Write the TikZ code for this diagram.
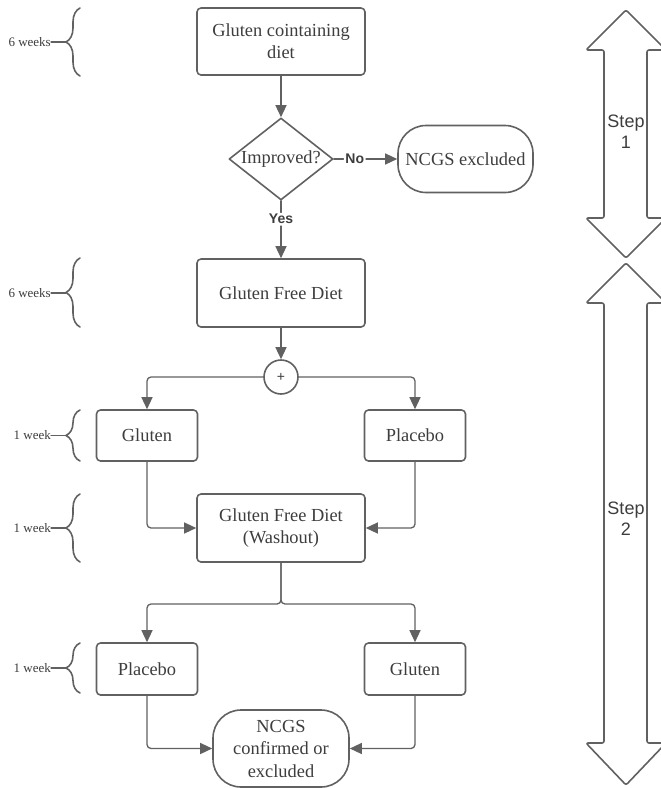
\documentclass[tikz,border=0pt]{standalone}
\usepackage{fontspec}
\setmainfont{Liberation Serif}
\setsansfont{Liberation Sans}
\usetikzlibrary{arrows.meta,shapes.geometric,decorations.pathreplacing}
\definecolor{lngray}{rgb}{0.38,0.38,0.38}
\definecolor{txgray}{rgb}{0.24,0.24,0.24}

\begin{document}
\begin{tikzpicture}[line cap=round,line join=round,>={Triangle[length=12pt,width=11pt]},x=1pt,y=1pt,
	box/.style={draw=lngray,line width=1.6pt,rounded corners=4pt,text=txgray,
		font=\fontsize{18.4}{22}\selectfont,align=center,inner sep=0pt},
	term/.style={box,rounded corners=28pt},
	dec/.style={draw=lngray,line width=1.6pt,diamond,inner sep=0pt},
	conn/.style={draw=lngray,line width=1.3pt,->,rounded corners=4pt},
	lab/.style={fill=white,text=txgray,inner sep=1.5pt,font=\sffamily\bfseries\fontsize{14}{16}\selectfont},
	wk/.style={text=txgray,anchor=east,inner sep=0pt,font=\fontsize{13}{15}\selectfont},
	lnk/.style={draw=lngray,line width=1.1pt},
	brc/.style={draw=lngray,line width=1.6pt,decorate,decoration={brace,amplitude=14pt}},
	bigarrow/.style={draw=lngray,line width=1.6pt,rounded corners=2pt},
	steptxt/.style={text=txgray,align=center,inner sep=0pt,font=\sffamily\fontsize{18}{21}\selectfont}]
	\useasboundingbox (0,0) rectangle (661,-788);
	\clip (0,0) rectangle (661,-788);
	% flow chart
	\node[box,minimum width=168pt,minimum height=67pt] (gcd) at (281,-41.5) {Gluten cointaining\\diet};
	\node[dec,minimum width=104pt,minimum height=82pt] (impr) at (281,-159) {};
	\node[text=txgray,font=\fontsize{18.4}{22}\selectfont] (imprtxt) at (impr) {Improved?};
	\node[term,minimum width=135pt,minimum height=67pt] (excl) at (465.5,-159) {NCGS excluded};
	\node[box,minimum width=168pt,minimum height=68pt] (gfd) at (281,-293) {Gluten Free Diet};
	\node[circle,draw=lngray,line width=1.6pt,minimum size=34pt,inner sep=0pt,text=txgray,
		font=\sffamily\fontsize{14}{14}\selectfont] (plus) at (281,-377) {+};
	\node[box,minimum width=101pt,minimum height=51pt] (glA) at (147,-435.5) {Gluten};
	\node[box,minimum width=101pt,minimum height=51pt] (plA) at (415,-435.5) {Placebo};
	\node[box,minimum width=168pt,minimum height=68pt] (wash) at (281,-528) {Gluten Free Diet\\(Washout)};
	\node[box,minimum width=101pt,minimum height=52pt] (plB) at (147,-669) {Placebo};
	\node[box,minimum width=101pt,minimum height=52pt] (glB) at (415,-669) {Gluten};
	\node[term,minimum width=136pt,minimum height=77pt,font=\fontsize{18.4}{22.5}\selectfont] (ncgs) at (281,-748.5) {NCGS\\confirmed or\\excluded};
	\coordinate (fork) at (281,-604);
	\draw[conn] (gcd) -- (impr);
	\draw[conn] (impr) -- node[pos=0.33,lab] {No} (excl);
	\draw[conn] (impr) -- node[pos=0.32,lab] {Yes} (gfd);
	\draw[conn] (gfd) -- (plus);
	\draw[conn] (plus.west) -| (glA.north);
	\draw[conn] (plus.east) -| (plA.north);
	\draw[conn] (glA.south) |- (wash.west);
	\draw[conn] (plA.south) |- (wash.east);
	\draw[conn] (wash.south) -- (fork) -| (plB.north);
	\draw[conn] (wash.south) -- (fork) -| (glB.north);
	\draw[conn] (plB.south) |- (ncgs.west);
	\draw[conn] (glB.south) |- (ncgs.east);
	% durations
	\node[wk] (w1) at (51,-42) {6 weeks};
	\coordinate (b1) at (66,-42);
	\draw[brc] (80,-76) -- (80,-8);
	\draw[lnk] (w1) -- (b1);
	\node[wk] (w2) at (51,-293) {6 weeks};
	\coordinate (b2) at (66,-293);
	\draw[brc] (80,-327) -- (80,-258);
	\draw[lnk] (w2) -- (b2);
	\node[wk] (w3) at (51,-435.5) {1 week};
	\coordinate (b3) at (66,-435.5);
	\draw[brc] (80,-461) -- (80,-410);
	\draw[lnk] (w3) -- (b3);
	\node[wk] (w4) at (51,-528) {1 week};
	\coordinate (b4) at (66,-528);
	\draw[brc] (80,-562) -- (80,-494);
	\draw[lnk] (w4) -- (b4);
	\node[wk] (w5) at (51,-668) {1 week};
	\coordinate (b5) at (66,-668);
	\draw[brc] (80,-693) -- (80,-643);
	\draw[lnk] (w5) -- (b5);
	% steps
	\draw[bigarrow] (626,-10) -- (666,-50) -- (647,-50) -- (647,-218) -- (666,-218) -- (626,-258) -- (586,-218) -- (604,-218) -- (604,-50) -- (586,-50) -- cycle;
	\node[steptxt] (s1) at (626,-132) {Step\\1};
	\draw[bigarrow] (626,-263) -- (666,-303) -- (647,-303) -- (647,-743) -- (666,-743) -- (626,-785) -- (586,-743) -- (604,-743) -- (604,-303) -- (586,-303) -- cycle;
	\node[steptxt] (s2) at (626,-519) {Step\\2};
\end{tikzpicture}
\end{document}
